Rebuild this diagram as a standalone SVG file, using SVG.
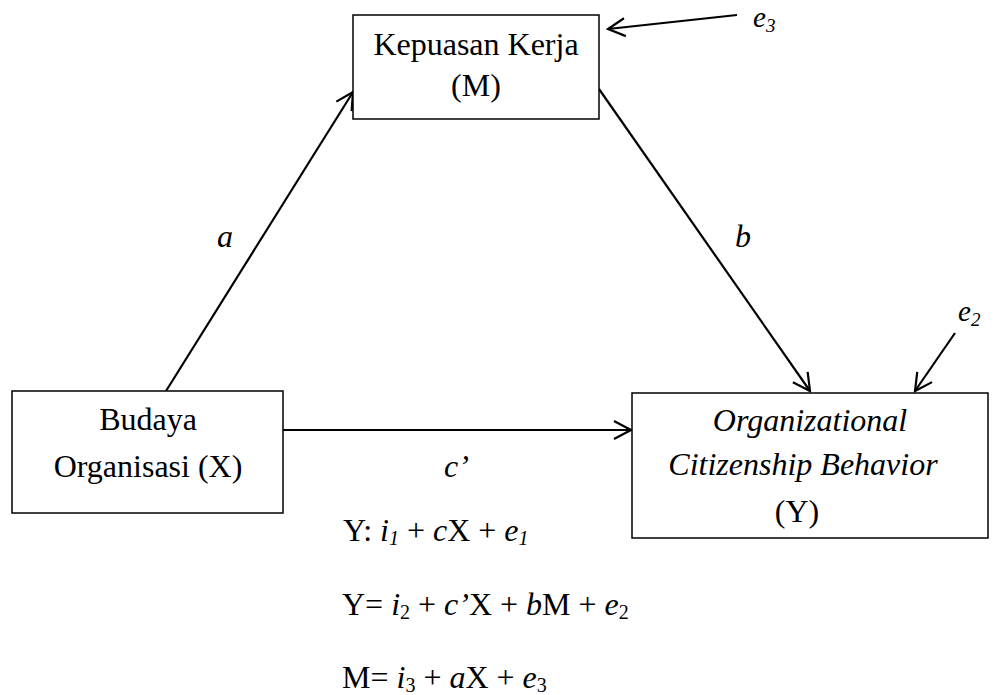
<svg xmlns="http://www.w3.org/2000/svg" width="997" height="695" viewBox="0 0 997 695">
<defs>
<style>
.box{fill:#fff;stroke:#000;stroke-width:1.5}
.t{font-family:'Liberation Serif',serif;font-size:32px;fill:#000;text-anchor:middle}
.eq{font-family:'Liberation Serif',serif;font-size:32px;fill:#000}
.el{font-family:'Liberation Serif',serif;font-size:29px;font-style:italic;fill:#000}
.i{font-style:italic}
.ln{stroke:#000;stroke-width:2.2;fill:none}
</style>
<marker id="arr" viewBox="-20 -11 22 22" markerWidth="22" markerHeight="22" refX="0" refY="0" orient="auto" markerUnits="userSpaceOnUse">
<path d="M-17,-9 L0,0 L-17,9" fill="none" stroke="#000" stroke-width="2.2"/>
</marker>
</defs>
<rect width="997" height="695" fill="#fff"/>
<g id="connectors">
<line class="ln" x1="166" y1="391" x2="353" y2="92" marker-end="url(#arr)"/>
<line class="ln" x1="599" y1="89" x2="810" y2="391" marker-end="url(#arr)"/>
<line class="ln" x1="283" y1="430" x2="631" y2="430" marker-end="url(#arr)"/>
<line class="ln" x1="737" y1="15" x2="608" y2="29" marker-end="url(#arr)"/>
<line class="ln" x1="955" y1="333" x2="915" y2="391" marker-end="url(#arr)"/>
</g>
<g id="node-M">
<rect class="box" x="353" y="15" width="246" height="104"/>
<text class="t" x="476" y="55">Kepuasan Kerja</text>
<text class="t" x="476" y="96">(M)</text>
</g>
<g id="node-X">
<rect class="box" x="12" y="391" width="271" height="122"/>
<text class="t" x="148" y="430">Budaya</text>
<text class="t" x="148" y="477">Organisasi (X)</text>
</g>
<g id="node-Y">
<rect class="box" x="632" y="393" width="356" height="145"/>
<text class="t i" x="810" y="431">Organizational</text>
<text class="t i" x="803" y="475">Citizenship Behavior</text>
<text class="t" x="797" y="522">(Y)</text>
</g>
<g id="labels">
<text class="t i" x="225" y="247">a</text>
<text class="t i" x="743" y="247">b</text>
<text class="eq i" x="444" y="477">c’</text>
<text class="el" x="753" y="27">e<tspan font-size="19" dy="5">3</tspan></text>
<text class="el" x="958" y="321">e<tspan font-size="19" dy="5">2</tspan></text>
</g>
<g id="equations">
<text class="eq" x="343" y="541">Y: <tspan class="i">i</tspan><tspan class="i" font-size="20" dy="4">1</tspan><tspan dy="-4"> + </tspan><tspan class="i">c</tspan>X + <tspan class="i">e</tspan><tspan class="i" font-size="20" dy="4">1</tspan></text>
<text class="eq" x="342" y="615">Y= <tspan class="i">i</tspan><tspan font-size="20" dy="4">2</tspan><tspan dy="-4"> + </tspan><tspan class="i">c’</tspan>X + <tspan class="i">b</tspan>M + <tspan class="i">e</tspan><tspan font-size="20" dy="4">2</tspan></text>
<text class="eq" x="342" y="688">M= <tspan class="i">i</tspan><tspan font-size="20" dy="4">3</tspan><tspan dy="-4"> + </tspan><tspan class="i">a</tspan>X + <tspan class="i">e</tspan><tspan font-size="20" dy="4">3</tspan></text>
</g>
</svg>
